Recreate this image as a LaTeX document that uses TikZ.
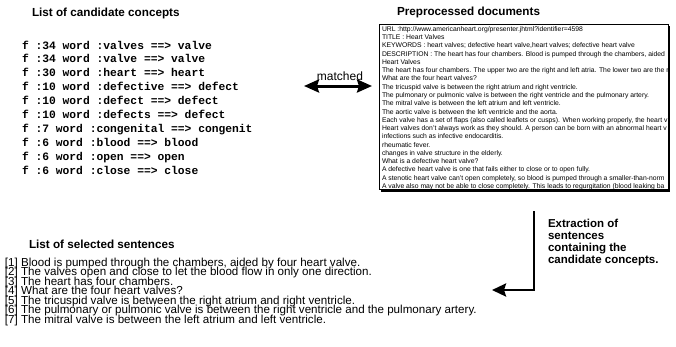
\documentclass[tikz,border=0pt]{standalone}
\usepackage{fontspec}
\setmainfont{Liberation Sans}
\newfontfamily\monof{Liberation Mono}
\usetikzlibrary{arrows.meta}
\begin{document}
\begin{tikzpicture}[x=1pt,y=-1pt,
  every node/.style={inner sep=0pt, outer sep=0pt},
  heading/.style={font=\fontsize{11.7}{12}\selectfont\bfseries, anchor=base west},
  concept/.style={font=\monof\fontsize{11.3}{12}\selectfont\bfseries, anchor=base west},
  docline/.style={font=\fontsize{6.8}{7}\selectfont, anchor=base west},
  sentence/.style={font=\fontsize{11.6}{12}\selectfont, anchor=base west},
  extract/.style={font=\fontsize{11.5}{12}\selectfont\bfseries, anchor=base west},
  bigarrow/.style={line width=2.7pt, line join=miter, -{Stealth[length=14pt,width=13pt,inset=2pt]}},
  dblarrow/.style={line width=3pt, {Stealth[length=15pt,width=13pt,inset=2pt]}-{Stealth[length=15pt,width=13pt,inset=2pt]}},
]
\useasboundingbox (0,0) rectangle (676,346);
\fill[white] (0,0) rectangle (676,346);

% headings
\node[heading] (h1) at (32,16.2) {List of candidate concepts};
\node[heading] (h2) at (397,15.5) {Preprocessed documents};
\node[heading] (h3) at (29,248) {List of selected sentences};

% candidate concepts
\node[concept] (c1) at (22,49.0) {f :34 word :valves ==> valve};
\node[concept] (c2) at (22,62.9) {f :34 word :valve ==> valve};
\node[concept] (c3) at (22,76.8) {f :30 word :heart ==> heart};
\node[concept] (c4) at (22,90.7) {f :10 word :defective ==> defect};
\node[concept] (c5) at (22,104.6) {f :10 word :defect ==> defect};
\node[concept] (c6) at (22,118.5) {f :10 word :defects ==> defect};
\node[concept] (c7) at (22,132.4) {f :7 word :congenital ==> congenit};
\node[concept] (c8) at (22,146.3) {f :6 word :blood ==> blood};
\node[concept] (c9) at (22,160.2) {f :6 word :open ==> open};
\node[concept] (c10) at (22,174.1) {f :6 word :close ==> close};

% matched arrow
\node[font=\fontsize{12}{12}\selectfont, anchor=base] (matched) at (340,80) {matched};
\coordinate (mL) at (304,86);
\coordinate (mR) at (372,86);
\draw[dblarrow] (mL) -- (mR);

% document box
\fill[black] (381,189) rectangle (670,191.5);
\fill[black] (667,26) rectangle (670,191.5);
\node[draw, line width=0.8pt, fill=white, anchor=north west, minimum width=289pt, minimum height=165pt] (doc) at (379,24) {};
\begin{scope}
\clip (379.5,24.5) rectangle (667.5,189.5);
\node[docline] (d1) at (382,31.3) {URL :http://www.americanheart.org/presenter.jhtml?identifier=4598};
\node[docline] (d2) at (382,39.6) {TITLE : Heart Valves};
\node[docline] (d3) at (382,47.8) {KEYWORDS : heart valves; defective heart valve,heart valves; defective heart valve};
\node[docline] (d4) at (382,56.1) {DESCRIPTION : The heart has four chambers. Blood is pumped through the chambers, aided};
\node[docline] (d5) at (382,64.4) {Heart Valves};
\node[docline] (d6) at (382,72.6) {The heart has four chambers. The upper two are the right and left atria. The lower two are the r};
\node[docline] (d7) at (382,80.9) {What are the four heart valves?};
\node[docline] (d8) at (382,89.2) {The tricuspid valve is between the right atrium and right ventricle.};
\node[docline] (d9) at (382,97.5) {The pulmonary or pulmonic valve is between the right ventricle and the pulmonary artery.};
\node[docline] (d10) at (382,105.7) {The mitral valve is between the left atrium and left ventricle.};
\node[docline] (d11) at (382,114.0) {The aortic valve is between the left ventricle and the aorta.};
\node[docline] (d12) at (382,122.3) {Each valve has a set of flaps (also called leaflets or cusps). When working properly, the heart v};
\node[docline] (d13) at (382,130.5) {Heart valves don't always work as they should. A person can be born with an abnormal heart v};
\node[docline] (d14) at (382,138.8) {infections such as infective endocarditis.};
\node[docline] (d15) at (382,147.1) {rheumatic fever.};
\node[docline] (d16) at (382,155.4) {changes in valve structure in the elderly.};
\node[docline] (d17) at (382,163.6) {What is a defective heart valve?};
\node[docline] (d18) at (382,171.9) {A defective heart valve is one that fails either to close or to open fully.};
\node[docline] (d19) at (382,180.2) {A stenotic heart valve can't open completely, so blood is pumped through a smaller-than-norm};
\node[docline] (d20) at (382,188.4) {A valve also may not be able to close completely. This leads to regurgitation (blood leaking ba};
\end{scope}

% extraction arrow
\coordinate (xTop) at (534,211);
\coordinate (xCorner) at (534,290);
\coordinate (xTip) at (492,290);
\draw[bigarrow] (xTop) -- (xCorner) -- (xTip);
\node[extract] (e1) at (548,227) {Extraction of};
\node[extract] (e2) at (548,239) {sentences};
\node[extract] (e3) at (548,251) {containing the};
\node[extract] (e4) at (548,263) {candidate concepts.};

% selected sentences
\node[sentence] (s1) at (5,266) {[1] Blood is pumped through the chambers, aided by four heart valve.};
\node[sentence] (s2) at (5,275.5) {[2] The valves open and close to let the blood flow in only one direction.};
\node[sentence] (s3) at (5,285) {[3] The heart has four chambers.};
\node[sentence] (s4) at (5,294.5) {[4] What are the four heart valves?};
\node[sentence] (s5) at (5,304) {[5] The tricuspid valve is between the right atrium and right ventricle.};
\node[sentence] (s6) at (5,313.5) {[6] The pulmonary or pulmonic valve is between the right ventricle and the pulmonary artery.};
\node[sentence] (s7) at (5,323) {[7] The mitral valve is between the left atrium and left ventricle.};
\end{tikzpicture}
\end{document}
